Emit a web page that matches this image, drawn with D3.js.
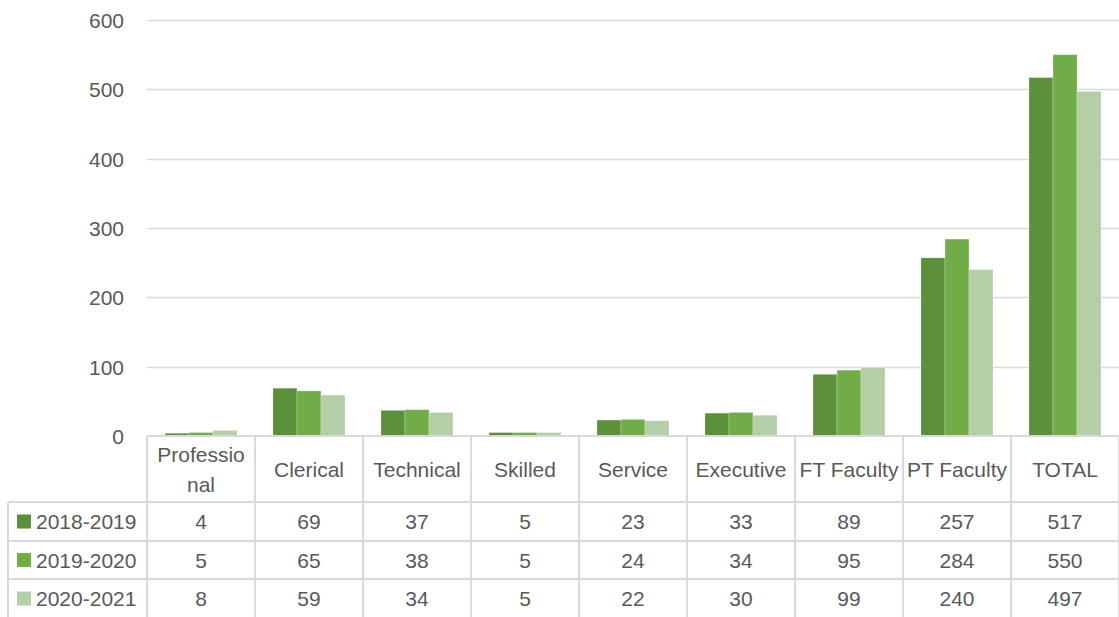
<!DOCTYPE html>
<html><head><meta charset="utf-8">
<script src="https://cdn.jsdelivr.net/npm/d3@7"></script>
<style>
html,body{margin:0;padding:0;background:#fff;}
svg{display:block;}
text{font-family:"Liberation Sans",Arial,sans-serif;fill:#595959;}
</style></head>
<body>
<svg id="chart" width="1119" height="617"></svg>
<script>
const categories = ["Professional","Clerical","Technical","Skilled","Service","Executive","FT Faculty","PT Faculty","TOTAL"];
const categoryLines = [["Professio","nal"],["Clerical"],["Technical"],["Skilled"],["Service"],["Executive"],["FT Faculty"],["PT Faculty"],["TOTAL"]];
const seriesNames = ["2018-2019","2019-2020","2020-2021"];
const values2018 = [4,69,37,5,23,33,89,257,517];
const values2019 = [5,65,38,5,24,34,95,284,550];
const values2020 = [8,59,34,5,22,30,99,240,497];
const yTicks = [0,100,200,300,400,500,600];
const colors = ["#5b8f3a","#70ad47","#b4cfa5"];

(function(){
const seriesValues = [values2018, values2019, values2020];
const svg = d3.select("#chart");
const mLeft = 147, mRight = 1119, mTop = 20, mBottom = 436;
const tableLeft = 8;
const rowEdges = [436, 502, 541, 579, 618];
const fontSize = 21;
const gridColor = "#d9d9d9";

const x = d3.scaleBand().domain(categories).range([mLeft, mRight]).paddingInner(0).paddingOuter(0);
const xs = d3.scaleBand().domain(seriesNames).range([0, x.bandwidth()]).paddingInner(0).paddingOuter(0.75);
const y = d3.scaleLinear().domain([0, 600]).range([mBottom, mTop]);

// gridlines
svg.append("g").selectAll("line").data(yTicks.filter(t => t > 0)).join("line")
  .attr("x1", mLeft).attr("x2", mRight)
  .attr("y1", d => Math.round(y(d)) + 0.5).attr("y2", d => Math.round(y(d)) + 0.5)
  .attr("stroke", gridColor).attr("stroke-width", 1.5);

// y labels
const yAxis = d3.axisLeft(y).tickValues(yTicks).tickSize(0).tickPadding(0);
const ya = svg.append("g").attr("transform", `translate(${124},0)`).call(yAxis);
ya.select(".domain").remove();
ya.selectAll("text").style("font-size", fontSize + "px").attr("fill", "#595959")
  .style("font-family", '"Liberation Sans",Arial,sans-serif').attr("dy", "0.35em");

// bars
const g = svg.append("g");
seriesNames.forEach((s, si) => {
  g.selectAll(".b" + si).data(categories).join("rect")
    .attr("x", c => x(c) + xs(s))
    .attr("width", xs.bandwidth())
    .attr("y", (c, i) => y(seriesValues[si][i]))
    .attr("height", (c, i) => mBottom - y(seriesValues[si][i]))
    .attr("fill", colors[si])
    .attr("stroke", "rgba(255,255,255,0.35)").attr("stroke-width", 0.8);
});

// table lines
const tl = svg.append("g").attr("stroke", gridColor).attr("stroke-width", 2);
tl.append("line").attr("x1", mLeft).attr("x2", mRight).attr("y1", mBottom).attr("y2", mBottom);
rowEdges.slice(1, 4).forEach(yy => {
  tl.append("line").attr("x1", tableLeft).attr("x2", mRight).attr("y1", yy).attr("y2", yy);
});
const colEdges = categories.map(c => x(c)).concat([mRight]);
colEdges.forEach(xx => {
  tl.append("line").attr("x1", xx).attr("x2", xx).attr("y1", mBottom).attr("y2", 617);
});
tl.append("line").attr("x1", tableLeft).attr("x2", tableLeft).attr("y1", rowEdges[1]).attr("y2", 617);

// header text
const hdr = svg.append("g");
categories.forEach((c, i) => {
  const lines = categoryLines[i];
  const cx = x(c) + x.bandwidth() / 2;
  const cy = (rowEdges[0] + rowEdges[1]) / 2;
  const lh = 30;
  lines.forEach((ln, li) => {
    hdr.append("text").attr("x", cx).attr("y", cy + (li - (lines.length - 1) / 2) * lh)
      .attr("dy", "0.36em").attr("text-anchor", "middle").style("font-size", fontSize + "px").text(ln);
  });
});

// data rows
seriesNames.forEach((s, si) => {
  const cy = (rowEdges[si + 1] + rowEdges[si + 2]) / 2;
  svg.append("rect").attr("x", 17).attr("y", cy - 7).attr("width", 14).attr("height", 14).attr("fill", colors[si]);
  svg.append("text").attr("x", 36).attr("y", cy).attr("dy", "0.36em").style("font-size", fontSize + "px").text(s);
  categories.forEach((c, i) => {
    svg.append("text").attr("x", x(c) + x.bandwidth() / 2).attr("y", cy).attr("dy", "0.36em")
      .attr("text-anchor", "middle").style("font-size", fontSize + "px").text(seriesValues[si][i]);
  });
});
})();
</script>
</body></html>
